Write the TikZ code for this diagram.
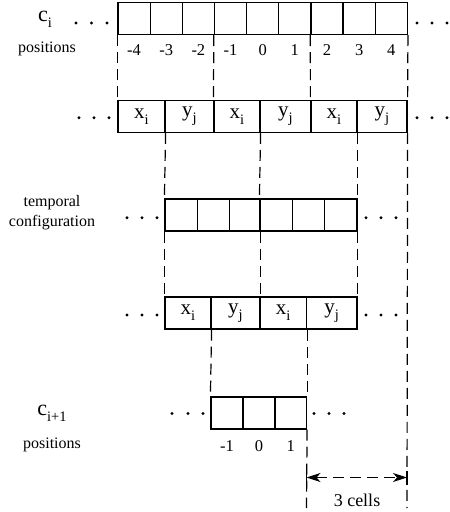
\documentclass[tikz,border=0pt]{standalone}
\usepackage{fontspec}
\setmainfont{Liberation Serif}
\usetikzlibrary{arrows.meta}
\newcommand{\sbs}[1]{\raisebox{-0.28em}{\fontsize{14.5}{14.5}\selectfont #1}}
\begin{document}
\begin{tikzpicture}[x=1pt,y=-1pt,
  cellbox/.style={draw,line width=1.2pt,inner sep=0pt,minimum height=32pt,
    font=\fontsize{21}{22}\selectfont},
  guide/.style={line width=1.2pt,dash pattern=on 11pt off 6pt},
  lbl/.style={font=\fontsize{16}{20}\selectfont,align=center,inner sep=0pt},
  num/.style={font=\fontsize{16.5}{17}\selectfont,inner sep=0pt,anchor=base},
  bigl/.style={font=\fontsize{22}{22}\selectfont,inner sep=0pt,anchor=base},
  dotmark/.style={fill=black,draw=none},
]
\useasboundingbox (0,0) rectangle (450,512);
% row 1
\foreach \k in {1,...,9}{
  \node[cellbox,minimum width=32.15pt] (r1c\k) at ({118+32.15*(\k-0.5)},18.5) {};
}
% row 2
\foreach \a/\b/\k/\t in {118/165/1/x\sbs{i},165/214/2/y\sbs{j},214/260/3/x\sbs{i},260/311/4/y\sbs{j},311/357/5/x\sbs{i},357/407/6/y\sbs{j}}{
  \node[cellbox,minimum width={(\b-\a)*1pt}] (r2c\k) at ({(\a+\b)/2},116.3) {\t};
}
% row 3
\foreach \a/\b/\k in {165/197.5/1,197.5/229.5/2,229.5/260/3,260/292.5/4,292.5/324.5/5,324.5/357/6}{
  \node[cellbox,minimum width={(\b-\a)*1pt}] (r3c\k) at ({(\a+\b)/2},215) {};
}
% row 4
\foreach \a/\b/\k/\t in {165/211/1/x\sbs{i},211/260/2/y\sbs{j},260/306.5/3/x\sbs{i},306.5/357/4/y\sbs{j}}{
  \node[cellbox,minimum width={(\b-\a)*1pt}] (r4c\k) at ({(\a+\b)/2},313) {\t};
}
% row 5
\foreach \a/\b/\k in {211/243/1,243/275/2,275/306.5/3}{
  \node[cellbox,minimum width={(\b-\a)*1pt}] (r5c\k) at ({(\a+\b)/2},413) {};
}
% position numbers
\foreach \k/\t in {1/-4,2/-3,3/-2,4/-1,5/0,6/1,7/2,8/3,9/4}{
  \node[num] (p1n\k) at ({118+32.15*(\k-0.5)},55.5) {\t};
}
\foreach \k/\t in {1/-1,2/0,3/1}{
  \node[num] (p5n\k) at (r5c\k.center |- 0,451) {\t};
}
% left labels
\node[bigl] (ci) at (45,21) {c\sbs{i}};
\node[lbl] (pos1) at (47,49) {positions};
\node[lbl] (temp) at (52,213) {temporal\\configuration};
\node[bigl] (cii) at (52,415) {c\sbs{i+1}};
\node[lbl] (pos5) at (52,445) {positions};
% dots
\foreach \x/\y in {76/23,91.5/23,107/23,417/23,432/23,447/23,
  79/117.7,94/117.7,109/117.7,417/117.7,432/117.7,447/117.7,
  127/217.7,142/217.7,157/217.7,366/217.7,381/217.7,396/217.7,
  127/315,142/315,157/315,366/315,381/315,396/315,
  172/413.5,188/413.5,203/413.5,314/413.5,329/413.5,344/413.5}{
  \fill[dotmark] (\x,\y) circle (1.6pt);
}
% guides
\coordinate (bA) at (407,508);
\coordinate (bB) at (306.5,508);
\draw[guide] (r1c1.south west) -- (r2c1.north west);
\draw[guide] (r1c4.south west) -- (r2c3.north west);
\draw[guide] (r1c7.south west) -- (r2c5.north west);
\draw[guide] (r1c9.south east) -- (r2c6.north east);
\draw[guide] (r2c6.south east) -- (bA);
\draw[guide] (r2c1.south east) -- (r3c1.north west);
\draw[guide] (r2c3.south east) -- (r3c4.north west);
\draw[guide] (r2c5.south east) -- (r3c6.north east);
\draw[guide] (r3c1.south west) -- (r4c1.north west);
\draw[guide] (r3c3.south east) -- (r4c2.north east);
\draw[guide] (r3c6.south east) -- (r4c4.north east);
\draw[guide] (r4c1.south east) -- (r5c1.north west);
\draw[guide] (r4c3.south east) -- (r5c3.north east);
\draw[guide] (r5c3.south east) -- (bB);
% dimension
\coordinate (dL) at (306.5,477.5);
\coordinate (dR) at (407,477.5);
\draw[line width=1.2pt] ([yshift=-7pt]dL) -- ([yshift=7pt]dL);
\draw[line width=1.2pt] ([yshift=-7pt]dR) -- ([yshift=7pt]dR);
\draw[guide,{Stealth[length=14pt,width=9pt,inset=4pt]}-{Stealth[length=14pt,width=9pt,inset=4pt]}] (dL) -- (dR);
\node[lbl,font=\fontsize{18}{20}\selectfont] (three) at (357,500) {3 cells};
\end{tikzpicture}
\end{document}
